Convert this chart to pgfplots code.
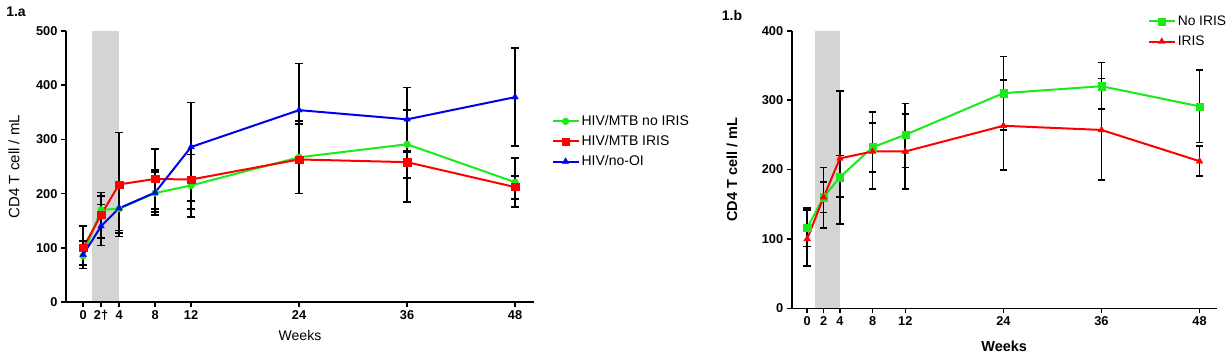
\documentclass[border=0pt]{standalone}
\usepackage{fontspec}
\setmainfont{Liberation Sans}
\usepackage{pgfplots}
\pgfplotsset{compat=1.18}
\definecolor{cgreen}{RGB}{25,235,25}
\definecolor{cred}{RGB}{255,0,0}
\definecolor{cblue}{RGB}{0,0,235}
\definecolor{band}{RGB}{212,212,212}
\pgfplotsset{
 myax/.style={
  scale only axis, axis x line*=bottom, axis y line*=left,
  xmin=-1.9, xmax=50.1, ymin=0,
  xtick={0,2,4,8,12,24,36,48},
  tick align=outside, major tick length=5pt,
  axis line style={line width=1.6pt, -},
  tick style={black, line width=1.6pt},
  tick label style={font=\bfseries\fontsize{12.8}{14}\selectfont},
  /pgf/number format/assume math mode=true,
  axis on top,
  legend cell align=left,
  legend image code/.code={\draw[mark repeat=2,mark phase=2] plot coordinates {(0pt,0pt) (13pt,0pt) (26pt,0pt)};},
 },
 eb/.style={/pgfplots/error bars/y dir=both, /pgfplots/error bars/y explicit,
   /pgfplots/error bars/error bar style={black, line width=1.7pt, solid},
   /pgfplots/error bars/error mark options={rotate=90, black, mark size=3.8pt, line width=1.7pt}},
}
\begin{document}
\begin{tikzpicture}
\useasboundingbox (0pt,0pt) rectangle (1232pt,359pt);
\node[font=\bfseries\fontsize{14}{15}\selectfont] at (16pt,347pt) {1.a};
\node[font=\bfseries\fontsize{14}{15}\selectfont] at (732pt,344pt) {1.b};
% ---------- 1.a ----------
\begin{axis}[myax, at={(66pt,57pt)}, anchor=south west,
  width=468pt, height=271pt, ymax=500,
  ytick={0,100,200,300,400,500},
  xticklabels={0,2†,4,8,12,24,36,48},
  xlabel={Weeks}, ylabel={CD4 T cell / mL},
  xlabel style={font=\fontsize{14}{16}\selectfont, at={(axis description cs:0.5,-0.124)}, anchor=center},
  ylabel style={font=\fontsize{15}{17}\selectfont, at={(axis description cs:-0.111,0.5)}, anchor=center},
  legend style={at={(rel axis cs:1.035,0.70)}, anchor=north west, draw=none, fill=none,
    font=\fontsize{14}{16}\selectfont, row sep=4.5pt, inner sep=1pt},
]
\addplot[draw=none, fill=band, forget plot] coordinates {(1,500) (4,500)} \closedcycle;
\addplot[cgreen, line width=2pt, mark=*, mark size=3.4pt, mark options={fill=cgreen, line width=0.4pt}, eb]
 coordinates {
 (0,85) += (0,28) -= (0,17)
 (2,170) += (0,26) -= (0,52)
 (4,172) += (0,48) -= (0,45)
 (8,201) += (0,43) -= (0,40)
 (12,215) += (0,57) -= (0,58)
 (24,267) += (0,67) -= (0,67)
 (36,291) += (0,63) -= (0,62)
 (48,221) += (0,45) -= (0,46)
 };
\addlegendentry{HIV/MTB no IRIS}
\addplot[cred, line width=2pt, mark=square*, mark size=3.6pt, mark options={fill=cred, line width=0.4pt}, eb]
 coordinates {
 (0,100) += (0,40) -= (0,38)
 (2,161) += (0,41) -= (0,43)
 (4,217) += (0,96) -= (0,96)
 (8,227) += (0,55) -= (0,55)
 (12,226) += (0,46) -= (0,54)
 (24,263) += (0,65) -= (0,63)
 (36,258) += (0,20) -= (0,73)
 (48,212) += (0,21) -= (0,22)
 };
\addlegendentry{HIV/MTB IRIS}
\addplot[cblue, line width=2pt, mark=triangle*, mark size=3.8pt, mark options={fill=cblue, line width=0.4pt}, eb]
 coordinates {
 (0,87) += (0,26) -= (0,25)
 (2,140) += (0,40) -= (0,36)
 (4,173) += (0,40) -= (0,41)
 (8,202) += (0,38) -= (0,36)
 (12,286) += (0,82) -= (0,100)
 (24,354) += (0,86) -= (0,86)
 (36,337) += (0,59) -= (0,60)
 (48,378) += (0,91) -= (0,90)
 };
\addlegendentry{HIV/no-OI}
\end{axis}
% ---------- 1.b ----------
\begin{axis}[myax, at={(791.7pt,50.7pt)}, anchor=south west,
  width=425pt, height=277.6pt, ymax=400,
  ytick={0,100,200,300,400},
  xticklabels={0,2,4,8,12,24,36,48},
  xlabel={Weeks}, ylabel={CD4 T cell / mL},
  xlabel style={font=\bfseries\fontsize{14.5}{16}\selectfont, at={(axis description cs:0.5,-0.138)}, anchor=center},
  ylabel style={font=\bfseries\fontsize{14.5}{16}\selectfont, at={(axis description cs:-0.1405,0.5)}, anchor=center},
  legend style={at={(rel axis cs:0.835,1.065)}, anchor=north west, draw=none, fill=none,
    font=\fontsize{13.8}{15}\selectfont, row sep=5pt, inner sep=1pt},
]
\addplot[draw=none, fill=band, forget plot] coordinates {(1,400) (4,400)} \closedcycle;
\addplot[cgreen, line width=2pt, mark=square*, mark size=3.6pt, mark options={fill=cgreen, line width=0.4pt}, eb]
 coordinates {
 (0,116) += (0,29) -= (0,27)
 (2,160) += (0,43) -= (0,44)
 (4,189) += (0,31) -= (0,29)
 (8,232) += (0,51) -= (0,36)
 (12,250) += (0,45) -= (0,47)
 (24,310) += (0,53) -= (0,53)
 (36,320) += (0,34) -= (0,33)
 (48,291) += (0,52) -= (0,52)
 };
\addlegendentry{No IRIS}
\addplot[cred, line width=2pt, mark=triangle*, mark size=3.8pt, mark options={fill=cred, line width=0.4pt}, eb]
 coordinates {
 (0,100) += (0,42) -= (0,39)
 (2,160) += (0,22) -= (0,22)
 (4,216) += (0,97) -= (0,95)
 (8,226) += (0,41) -= (0,54)
 (12,226) += (0,54) -= (0,54)
 (24,263) += (0,66) -= (0,64)
 (36,257) += (0,74) -= (0,72)
 (48,212) += (0,22) -= (0,21)
 };
\addlegendentry{IRIS}
\end{axis}
\end{tikzpicture}
\end{document}
